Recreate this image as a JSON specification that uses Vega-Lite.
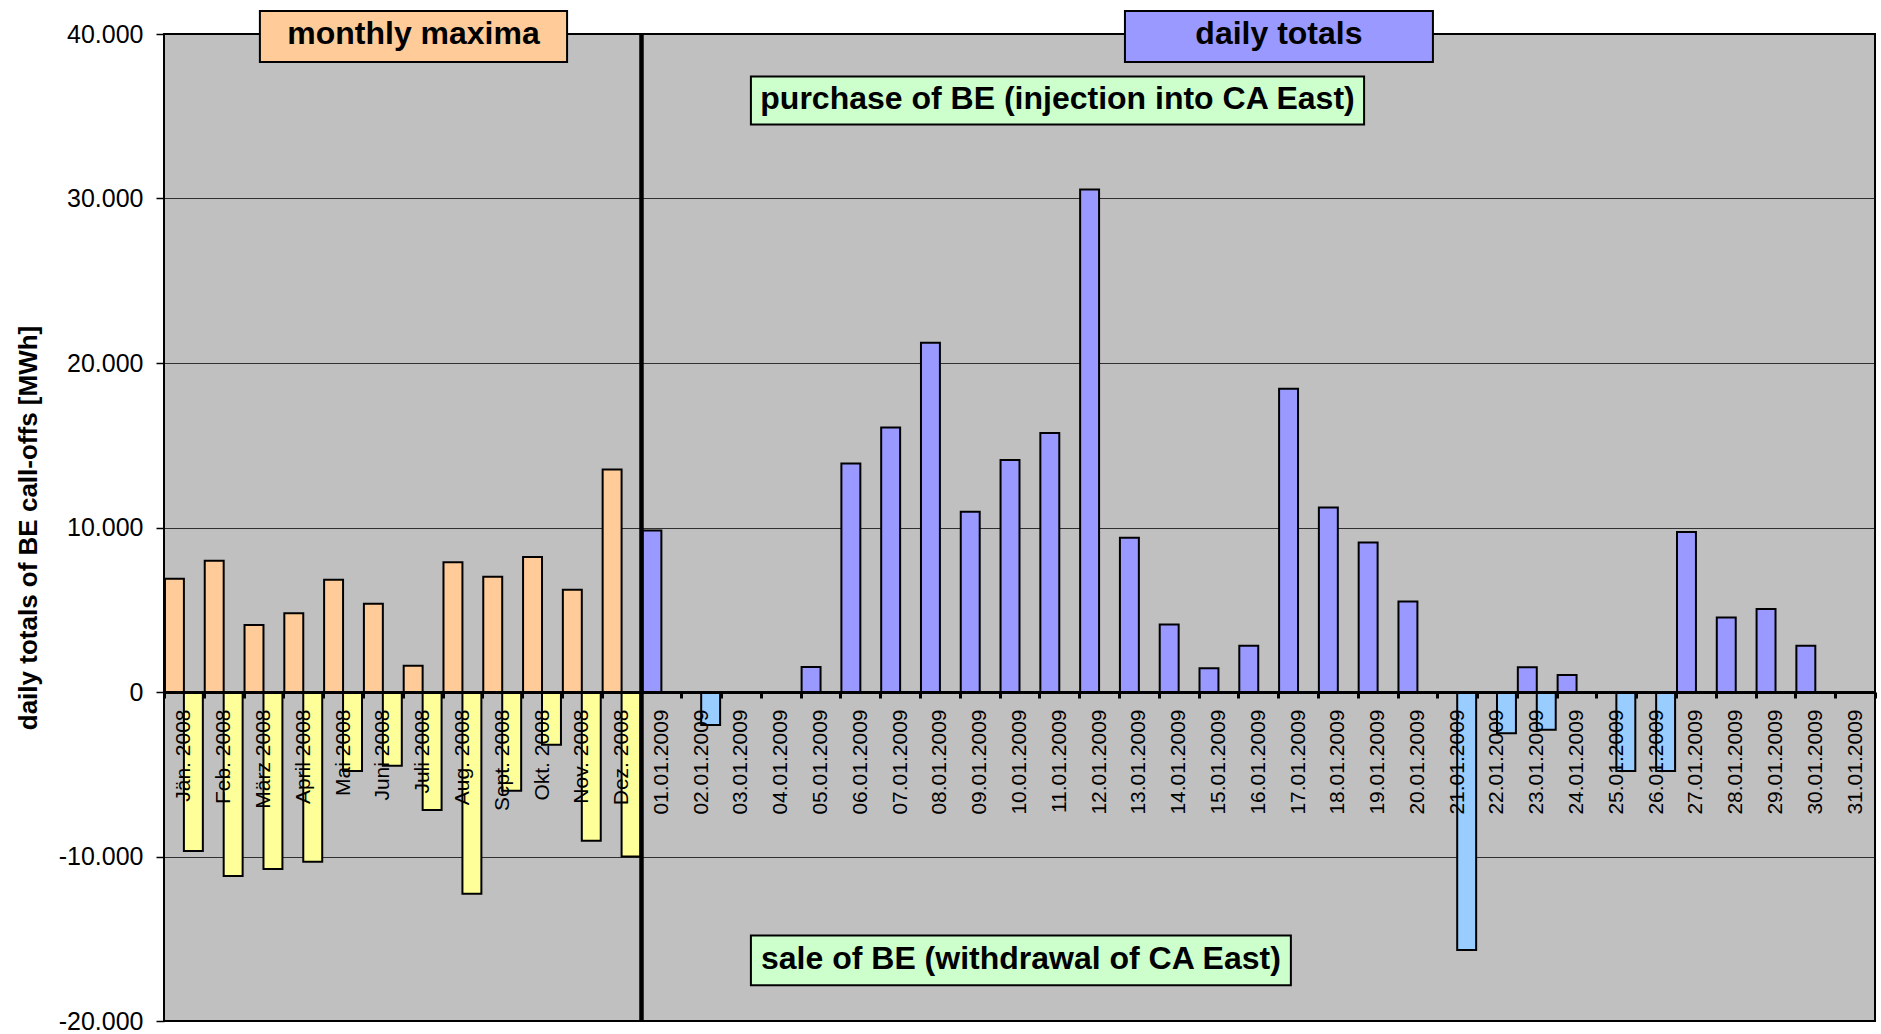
{
  "$schema": "https://vega.github.io/schema/vega-lite/v6.json",
  "width": 1711,
  "height": 987,
  "autosize": "none",
  "padding": {"left": 164, "top": 34, "right": 6, "bottom": 13},
  "config": {
    "view": {"fill": "#C0C0C0", "stroke": "#000000", "strokeWidth": 2},
    "font": "Liberation Sans"
  },
  "datasets": {
    "bars": [
      {"cat": "Jän. 2008", "kind": "pos", "series": "month purchase", "value": 6880},
      {"cat": "Jän. 2008", "kind": "neg", "series": "month sale", "value": -9660},
      {"cat": "Feb. 2008", "kind": "pos", "series": "month purchase", "value": 7980},
      {"cat": "Feb. 2008", "kind": "neg", "series": "month sale", "value": -11190},
      {"cat": "März 2008", "kind": "pos", "series": "month purchase", "value": 4070},
      {"cat": "März 2008", "kind": "neg", "series": "month sale", "value": -10760},
      {"cat": "April 2008", "kind": "pos", "series": "month purchase", "value": 4780},
      {"cat": "April 2008", "kind": "neg", "series": "month sale", "value": -10320},
      {"cat": "Mai 2008", "kind": "pos", "series": "month purchase", "value": 6820},
      {"cat": "Mai 2008", "kind": "neg", "series": "month sale", "value": -4810},
      {"cat": "Juni 2008", "kind": "pos", "series": "month purchase", "value": 5360},
      {"cat": "Juni 2008", "kind": "neg", "series": "month sale", "value": -4490},
      {"cat": "Juli 2008", "kind": "pos", "series": "month purchase", "value": 1600},
      {"cat": "Juli 2008", "kind": "neg", "series": "month sale", "value": -7180},
      {"cat": "Aug. 2008", "kind": "pos", "series": "month purchase", "value": 7890},
      {"cat": "Aug. 2008", "kind": "neg", "series": "month sale", "value": -12270},
      {"cat": "Sept. 2008", "kind": "pos", "series": "month purchase", "value": 7000},
      {"cat": "Sept. 2008", "kind": "neg", "series": "month sale", "value": -6000},
      {"cat": "Okt. 2008", "kind": "pos", "series": "month purchase", "value": 8200},
      {"cat": "Okt. 2008", "kind": "neg", "series": "month sale", "value": -3200},
      {"cat": "Nov. 2008", "kind": "pos", "series": "month purchase", "value": 6210},
      {"cat": "Nov. 2008", "kind": "neg", "series": "month sale", "value": -9050},
      {"cat": "Dez. 2008", "kind": "pos", "series": "month purchase", "value": 13520},
      {"cat": "Dez. 2008", "kind": "neg", "series": "month sale", "value": -10000},
      {"cat": "01.01.2009", "kind": "pos", "series": "day purchase", "value": 9820},
      {"cat": "02.01.2009", "kind": "neg", "series": "day sale", "value": -2010},
      {"cat": "05.01.2009", "kind": "pos", "series": "day purchase", "value": 1520},
      {"cat": "06.01.2009", "kind": "pos", "series": "day purchase", "value": 13890},
      {"cat": "07.01.2009", "kind": "pos", "series": "day purchase", "value": 16080},
      {"cat": "08.01.2009", "kind": "pos", "series": "day purchase", "value": 21230},
      {"cat": "09.01.2009", "kind": "pos", "series": "day purchase", "value": 10950},
      {"cat": "10.01.2009", "kind": "pos", "series": "day purchase", "value": 14100},
      {"cat": "11.01.2009", "kind": "pos", "series": "day purchase", "value": 15750},
      {"cat": "12.01.2009", "kind": "pos", "series": "day purchase", "value": 30550},
      {"cat": "13.01.2009", "kind": "pos", "series": "day purchase", "value": 9380},
      {"cat": "14.01.2009", "kind": "pos", "series": "day purchase", "value": 4110},
      {"cat": "15.01.2009", "kind": "pos", "series": "day purchase", "value": 1440},
      {"cat": "16.01.2009", "kind": "pos", "series": "day purchase", "value": 2810},
      {"cat": "17.01.2009", "kind": "pos", "series": "day purchase", "value": 18440},
      {"cat": "18.01.2009", "kind": "pos", "series": "day purchase", "value": 11210},
      {"cat": "19.01.2009", "kind": "pos", "series": "day purchase", "value": 9090},
      {"cat": "20.01.2009", "kind": "pos", "series": "day purchase", "value": 5500},
      {"cat": "21.01.2009", "kind": "neg", "series": "day sale", "value": -15690},
      {"cat": "22.01.2009", "kind": "neg", "series": "day sale", "value": -2500},
      {"cat": "23.01.2009", "kind": "pos", "series": "day purchase", "value": 1500},
      {"cat": "23.01.2009", "kind": "neg", "series": "day sale", "value": -2290},
      {"cat": "24.01.2009", "kind": "pos", "series": "day purchase", "value": 1030},
      {"cat": "25.01.2009", "kind": "neg", "series": "day sale", "value": -4810},
      {"cat": "26.01.2009", "kind": "neg", "series": "day sale", "value": -4810},
      {"cat": "27.01.2009", "kind": "pos", "series": "day purchase", "value": 9720},
      {"cat": "28.01.2009", "kind": "pos", "series": "day purchase", "value": 4530},
      {"cat": "29.01.2009", "kind": "pos", "series": "day purchase", "value": 5040},
      {"cat": "30.01.2009", "kind": "pos", "series": "day purchase", "value": 2810}
    ],
    "boxes": [
      {"label": "monthly maxima", "x1": 2.41, "x2": 10.13, "y1": 41395, "y2": 38301, "cx": 6.27, "cy": 39980},
      {"label": "daily totals", "x1": 24.15, "x2": 31.89, "y1": 41395, "y2": 38301, "cx": 28.02, "cy": 39980},
      {"label": "purchase of BE (injection into CA East)", "x1": 14.75, "x2": 30.16, "y1": 37422, "y2": 34492, "cx": 22.455, "cy": 36050},
      {"label": "sale of BE (withdrawal of CA East)", "x1": 14.75, "x2": 28.32, "y1": -14795, "y2": -17829, "cx": 21.535, "cy": -16220}
    ],
    "divider": [{"boundary": 12}]
  },
  "layer": [
    {
      "data": {"name": "bars"},
      "mark": {"type": "bar", "stroke": "#000000", "strokeWidth": 2},
      "encoding": {
        "x": {
          "field": "cat",
          "type": "nominal",
          "sort": null,
          "scale": {
            "domain": ["Jän. 2008", "Feb. 2008", "März 2008", "April 2008", "Mai 2008", "Juni 2008", "Juli 2008", "Aug. 2008", "Sept. 2008", "Okt. 2008", "Nov. 2008", "Dez. 2008",
              "01.01.2009", "02.01.2009", "03.01.2009", "04.01.2009", "05.01.2009", "06.01.2009", "07.01.2009", "08.01.2009", "09.01.2009", "10.01.2009",
              "11.01.2009", "12.01.2009", "13.01.2009", "14.01.2009", "15.01.2009", "16.01.2009", "17.01.2009", "18.01.2009", "19.01.2009", "20.01.2009",
              "21.01.2009", "22.01.2009", "23.01.2009", "24.01.2009", "25.01.2009", "26.01.2009", "27.01.2009", "28.01.2009", "29.01.2009", "30.01.2009", "31.01.2009"],
            "paddingInner": 0,
            "paddingOuter": 0
          },
          "axis": {
            "orient": "bottom",
            "offset": -329,
            "title": null,
            "labelAngle": 270,
            "labelFontSize": 21,
            "labelColor": "#000000",
            "labelPadding": 11,
            "labelOverlap": false,
            "labelBound": false,
            "tickBand": "extent",
            "tickSize": 6,
            "tickWidth": 3,
            "tickColor": "#000000",
            "domainColor": "#000000",
            "domainWidth": 3,
            "zindex": 1
          }
        },
        "xOffset": {
          "field": "kind",
          "type": "nominal",
          "scale": {"domain": ["pos", "neg"], "paddingOuter": 0.05, "paddingInner": 0}
        },
        "y": {
          "field": "value",
          "type": "quantitative",
          "scale": {"domain": [-20000, 40000], "nice": false, "zero": false},
          "axis": {
            "values": [-20000, -10000, 0, 10000, 20000, 30000, 40000],
            "labelExpr": "(datum.value < 0 ? '-' : '') + replace(format(abs(datum.value), ','), ',', '.')",
            "labelFontSize": 25,
            "labelColor": "#000000",
            "labelPadding": 13,
            "tickSize": 8,
            "tickColor": "#000000",
            "tickWidth": 1.5,
            "domain": false,
            "grid": true,
            "gridColor": "#000000",
            "gridWidth": 1,
            "gridOpacity": 0.75,
            "title": "daily totals of BE call-offs [MWh]",
            "titleFontSize": 26,
            "titleFontWeight": "bold",
            "titleColor": "#000000",
            "titlePadding": 17
          }
        },
        "color": {
          "field": "series",
          "type": "nominal",
          "scale": {
            "domain": ["month purchase", "month sale", "day purchase", "day sale"],
            "range": ["#FFCC99", "#FFFF99", "#9999FF", "#99CCFF"]
          },
          "legend": null
        }
      }
    },
    {
      "data": {"name": "boxes"},
      "mark": {"type": "rect", "stroke": "#000000", "strokeWidth": 2},
      "encoding": {
        "x": {"field": "x1", "type": "quantitative", "scale": {"domain": [0, 43], "nice": false, "zero": false}, "axis": null},
        "x2": {"field": "x2"},
        "y": {"field": "y1", "type": "quantitative"},
        "y2": {"field": "y2"},
        "color": {
          "field": "label",
          "type": "nominal",
          "scale": {
            "domain": ["monthly maxima", "daily totals", "purchase of BE (injection into CA East)", "sale of BE (withdrawal of CA East)"],
            "range": ["#FFCC99", "#9999FF", "#CCFFCC", "#CCFFCC"]
          },
          "legend": null
        }
      }
    },
    {
      "data": {"name": "boxes"},
      "mark": {"type": "text", "fontSize": 32, "fontWeight": "bold", "color": "#000000", "align": "center", "baseline": "middle"},
      "encoding": {
        "x": {"field": "cx", "type": "quantitative", "scale": {"domain": [0, 43], "nice": false, "zero": false}, "axis": null},
        "y": {"field": "cy", "type": "quantitative"},
        "text": {"field": "label"}
      }
    },
    {
      "data": {"name": "divider"},
      "mark": {"type": "rule", "color": "#000000", "strokeWidth": 4.5},
      "encoding": {
        "x": {"field": "boundary", "type": "quantitative", "scale": {"domain": [0, 43], "nice": false, "zero": false}, "axis": null}
      }
    }
  ],
  "resolve": {"scale": {"x": "independent", "color": "independent"}}
}
